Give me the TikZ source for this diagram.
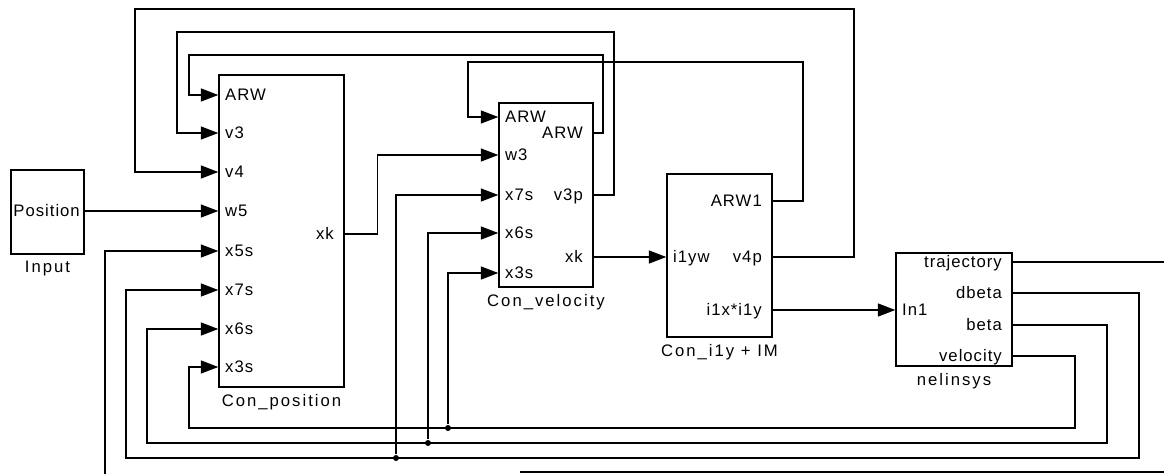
\documentclass[tikz,border=0pt]{standalone}
\usepackage{fontspec}
\setmainfont{Liberation Sans}
\newfontfamily\portfont[LetterSpace=6]{Liberation Sans}
\newfontfamily\lblfont[LetterSpace=12]{Liberation Sans}
\usetikzlibrary{arrows.meta}

\begin{document}
\begin{tikzpicture}[x=0.02cm, y=-0.02cm, line width=0.8pt, every node/.style={font=\fontsize{9.5}{11}\selectfont\portfont}, >={Triangle[length=3.5mm, width=2.6mm]}, blk/.style={draw, rectangle, inner sep=0pt}, pin/.style={anchor=west, inner sep=0pt, xshift=1.1mm, text height=6.8pt, text depth=0pt}, pout/.style={anchor=east, inner sep=0pt, xshift=-1.9mm, text height=6.8pt, text depth=0pt}, blkname/.style={font=\fontsize{9.5}{11}\selectfont\lblfont}, jn/.style={circle, fill, inner sep=0pt, minimum size=1.2mm}]
	\useasboundingbox (0,0) rectangle (1164,474);
	\node[blk, minimum width=1.46cm, minimum height=1.68cm, label={[blkname]below:Input}] (inp) at (47.5,212) {};
	\node[blk, minimum width=2.5cm, minimum height=6.24cm, label={[blkname]below:Con\_position}] (cp) at (281.5,231) {};
	\node[blk, minimum width=1.88cm, minimum height=3.68cm, label={[blkname]below:Con\_velocity}] (cv) at (546,195) {};
	\node[blk, minimum width=2.1cm, minimum height=3.26cm, label={[blkname]below:Con\_i1y + IM}] (ci) at (719.5,255.5) {};
	\node[blk, minimum width=2.32cm, minimum height=2.26cm, label={[blkname]below:nelinsys}] (ns) at (954,309.5) {};
	\node[pout, xshift=1.2mm] (inp-pos) at (84,211) {Position};
	\foreach \n/\t/\y in {arw/ARW/95, v3/v3/133, v4/v4/172, w5/w5/211, x5s/x5s/251, x7s/x7s/290, x6s/x6s/329, x3s/x3s/367}
		\node[pin] (cp-\n) at (219,\y) {\t};
	\node[pout] (cp-xk) at (344,234) {xk};
	\foreach \n/\t/\y in {arw/ARW/117, w3/w3/155, x7s/x7s/195, x6s/x6s/233, x3s/x3s/273}
		\node[pin] (cv-\n) at (499,\y) {\t};
	\foreach \n/\t/\y in {arwo/ARW/133, v3p/v3p/195, xk/xk/257}
		\node[pout] (cv-\n) at (593,\y) {\t};
	\node[pin] (ci-i1yw) at (667,257) {i1yw};
	\foreach \n/\t/\y in {arw1/ARW1/201, v4p/v4p/257, i1x/i1x*i1y/310}
		\node[pout] (ci-\n) at (772,\y) {\t};
	\node[pin] (ns-in1) at (896,310) {In1};
	\foreach \n/\t/\y in {traj/trajectory/262, dbeta/dbeta/293, beta/beta/325, vel/velocity/356}
		\node[pout] (ns-\n) at (1012,\y) {\t};
	\draw[->] (inp.east |- inp-pos) -- (cp.west |- cp-w5);
	\draw[->] (cp.east |- cp-xk) -- ++(33,0) |- (cv.west |- cv-w3);
	\draw[->] (cv.east |- cv-xk) -- (ci.west |- ci-i1yw);
	\draw[->] (ci.east |- ci-i1x) -- (ns.west |- ns-in1);
	\draw[->] (ci.east |- ci-v4p) -| (854,9) -- (135,9) |- (cp.west |- cp-v4);
	\draw[->] (cv.east |- cv-v3p) -| (614,32) -- (177,32) |- (cp.west |- cp-v3);
	\draw[->] (cv.east |- cv-arwo) -| (603,55) -- (189,55) |- (cp.west |- cp-arw);
	\draw[->] (ci.east |- ci-arw1) -| (803,62) -- (468,62) |- (cv.west |- cv-arw);
	\draw[->] (ns.east |- ns-vel) -| (1075,428) -- (189,428) |- (cp.west |- cp-x3s);
	\draw[->] (ns.east |- ns-beta) -| (1107,443) -- (147,443) |- (cp.west |- cp-x6s);
	\draw[->] (ns.east |- ns-dbeta) -| (1139,458) -- (126,458) |- (cp.west |- cp-x7s);
	\node[jn] (j1) at (448,428) {};
	\node[jn] (j2) at (428,443) {};
	\node[jn] (j3) at (396,458) {};
	\draw[->] (j1) |- (cv.west |- cv-x3s);
	\draw[->] (j2) |- (cv.west |- cv-x6s);
	\draw[->] (j3) |- (cv.west |- cv-x7s);
	\coordinate (trajend) at (1164,262);
	\coordinate (x5send) at (105,474);
	\coordinate (botl) at (520,472);
	\coordinate (botr) at (1164,472);
	\draw (ns.east |- ns-traj) -- (trajend);
	\draw[->] (x5send) |- (cp.west |- cp-x5s);
	\draw (botl) -- (botr);
\end{tikzpicture}
\end{document}
